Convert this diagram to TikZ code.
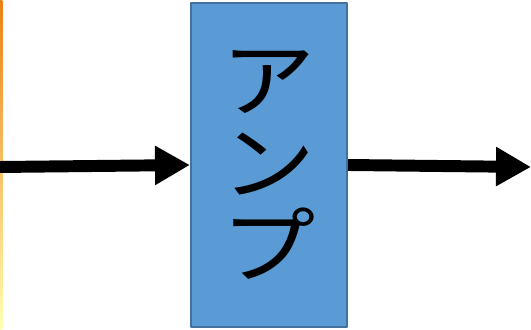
\documentclass[tikz,border=0pt]{standalone}
\usepackage{fontspec}
\newfontfamily\jpfont[FakeStretch=1.14]{Noto Sans CJK JP}
\usepackage{tikz}
\usetikzlibrary{arrows.meta,calc}
\usetikzlibrary{positioning}
\definecolor{ampblue}{HTML}{5B9BD5}
\definecolor{ampedge}{HTML}{41719C}
\tikzset{ampbox/.style={draw=ampedge,line width=1.2pt,fill=ampblue,minimum width=3.12cm,minimum height=6.48cm,inner sep=0pt,align=center,font=\jpfont\fontsize{47}{47}\selectfont},
sig/.style={line width=6.8pt,-{Triangle[length=0.7cm,width=0.74cm]}}}

\begin{document}
\begin{tikzpicture}[x=0.02cm,y=-0.02cm,>=Stealth,line join=round]
\useasboundingbox (0,0) rectangle (531,330);
% --- strip of a cut-off picture at the left edge
\shade[top color=orange!70!brown,middle color=yellow!40,bottom color=yellow!30] (0,0) rectangle (2.5,330);
% --- amplifier block
\node[ampbox] (amp) at (269,165) {ア\\ン\\プ};
\coordinate (in) at (0,167);
\coordinate (out) at (531,167);
\draw[sig] (in) -- (amp.west);
\draw[sig] (amp.east) -- (out);
\end{tikzpicture}
\end{document}
